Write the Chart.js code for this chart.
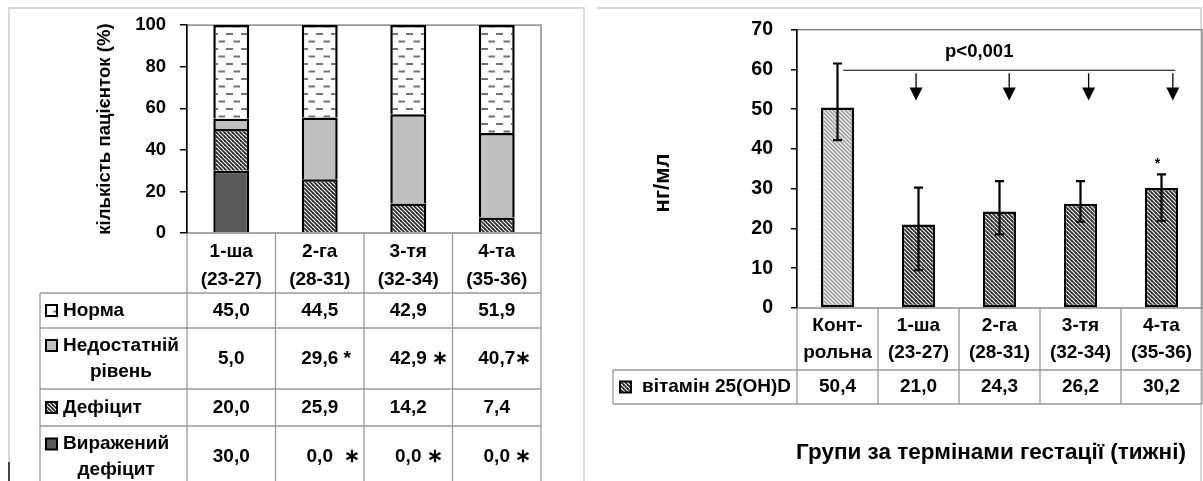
<!DOCTYPE html>
<html>
<head>
<meta charset="utf-8">
<script src="https://cdn.jsdelivr.net/npm/chart.js@4.4.0/dist/chart.umd.min.js"></script>
<style>
  body { margin: 0; background: #fff; width: 1203px; height: 481px; overflow: hidden; position: relative; }
  .frame { position: absolute; border: 2px solid #d9d9d9; }
  #leftFrame { left: 8px; top: 7px; width: 573px; height: 500px; }
  #rightFrame { left: 597px; top: 7px; width: 603px; height: 500px; border-left: none; border-bottom: none; }
  #cornerMark { position: absolute; left: 8px; top: 462px; width: 2px; height: 19px; background: #444; }
  canvas { position: absolute; top: 0; }
  #leftChart { left: 0; }
  #rightChart { left: 595px; }
  #xTitle { position: absolute; left: 641px; top: 439px; width: 700px; text-align: center;
            font: bold 22.5px 'Liberation Sans', Arial, sans-serif; line-height: 26px; color: #000; }
</style>
</head>
<body>
<div class="frame" id="leftFrame"></div>
<div class="frame" id="rightFrame"></div>
<div id="cornerMark"></div>
<canvas id="leftChart" width="595" height="481"></canvas>
<canvas id="rightChart" width="608" height="481"></canvas>
<div id="xTitle">Групи за термінами гестації (тижні)</div>

<script>
// ---- left chart data (% of patients by vitamin D status) ----
const leftGroups = [['1-ша', '(23-27)'], ['2-га', '(28-31)'], ['3-тя', '(32-34)'], ['4-та', '(35-36)']];
const normaVals = [45.0, 44.5, 42.9, 51.9];
const nedostatniyVals = [5.0, 29.6, 42.9, 40.7];
const defitsytVals = [20.0, 25.9, 14.2, 7.4];
const vyrazhenyiVals = [30.0, 0.0, 0.0, 0.0];
const normaMarks = ['', '', '', ''];
const nedostatniyMarks = ['', ' *', ' ∗', '∗'];
const defitsytMarks = ['', '', '', ''];
const vyrazhenyiMarks = ['', '  ∗', ' ∗', ' ∗'];
const percentTicks = [0, 20, 40, 60, 80, 100];

// ---- right chart data (25(OH)D, ng/ml) ----
const rightGroups = [['Конт-', 'рольна'], ['1-ша', '(23-27)'], ['2-га', '(28-31)'], ['3-тя', '(32-34)'], ['4-та', '(35-36)']];
const vitaminD = [50.4, 21.0, 24.3, 26.2, 30.2];
const errLow = [42.2, 9.5, 18.5, 21.7, 21.9];
const errHigh = [61.5, 30.3, 31.9, 31.9, 33.6];
const ngTicks = [0, 10, 20, 30, 40, 50, 60, 70];
const pLabel = 'p<0,001';
const pLineY = 59.8;
const pLineFrom = 0.07, pLineTo = 4.17, pLabelAt = 1.75;
const arrowAt = [0.97, 2.12, 3.1, 4.14];
const arrowTip = 52.2;
const starIndex = 4;

const FONT = "'Liberation Sans', Arial, sans-serif";
Chart.defaults.font.family = FONT;
Chart.defaults.color = '#000';

function makePattern(w, h, draw) {
  const c = document.createElement('canvas');
  c.width = w; c.height = h;
  const g = c.getContext('2d');
  g.fillStyle = '#fff';
  g.fillRect(0, 0, w, h);
  draw(g);
  return g.createPattern(c, 'repeat');
}
function hatch(color, s, lw) {
  return makePattern(s, s, g => {
    g.strokeStyle = color; g.lineWidth = lw;
    for (const k of [-s, 0, s]) {
      g.beginPath(); g.moveTo(-1, -1 + k); g.lineTo(s + 1, s + 1 + k); g.stroke();
    }
  });
}
const dashFill = makePattern(15, 15, g => {
  g.fillStyle = '#737373';
  g.fillRect(1, 3, 7, 2);
  g.fillRect(8.5, 10.5, 7, 2);
  g.fillRect(-6.5, 10.5, 1.5, 2);
});
const darkHatch = hatch('#2e2e2e', 4, 1.8);
const lightHatch = hatch('#a0a0a0', 4, 1.8);

function fmt(v) { return v.toFixed(1).replace('.', ','); }
function drawValue(ctx, text, mark, cx, cy) {
  ctx.textAlign = 'center';
  ctx.fillText(text, cx, cy);
  if (mark) {
    const w = ctx.measureText(text).width;
    ctx.textAlign = 'left';
    ctx.fillText(mark, cx + w / 2, cy);
  }
}
function swatch(ctx, fill, x, y, s) {
  ctx.fillStyle = fill;
  ctx.fillRect(x, y, s, s);
  ctx.strokeStyle = '#000'; ctx.lineWidth = 2;
  ctx.strokeRect(x, y, s, s);
}

const plotBorder = {
  id: 'plotBorder',
  beforeDraw(chart) {
    const { ctx, chartArea: a } = chart;
    ctx.save();
    ctx.strokeStyle = '#8a8a8a'; ctx.lineWidth = 1.5;
    ctx.strokeRect(a.left, a.top, a.right - a.left, a.bottom - a.top);
    ctx.restore();
  }
};

const leftTable = {
  id: 'leftTable',
  afterDraw(chart) {
    const { ctx, chartArea: a } = chart;
    const n = leftGroups.length, cw = (a.right - a.left) / n;
    const colX = i => a.left + i * cw;
    const headTop = a.bottom, headBot = a.bottom + 60;
    const rows = [headBot, headBot + 35, headBot + 96, headBot + 133, headBot + 195];
    const tableLeft = 40;
    ctx.save();
    ctx.strokeStyle = '#999'; ctx.lineWidth = 1.3;
    ctx.beginPath();
    for (let i = 0; i <= n; i++) { ctx.moveTo(colX(i), headTop); ctx.lineTo(colX(i), rows[rows.length - 1]); }
    ctx.moveTo(tableLeft, headBot); ctx.lineTo(tableLeft, rows[rows.length - 1]);
    rows.forEach(y => { ctx.moveTo(tableLeft, y); ctx.lineTo(a.right, y); });
    ctx.stroke();

    ctx.fillStyle = '#000';
    ctx.font = 'bold 19px ' + FONT;
    ctx.textBaseline = 'middle';
    const hMid = (headTop + headBot) / 2 + 3;
    leftGroups.forEach((g, i) => {
      ctx.textAlign = 'center';
      ctx.fillText(g[0], colX(i) + cw / 2, hMid - 14);
      ctx.fillText(g[1], colX(i) + cw / 2, hMid + 14);
    });

    [3, 2, 1, 0].forEach((di, r) => {
      const ds = chart.data.datasets[di];
      const mid = (rows[r] + rows[r + 1]) / 2;
      const lines = ds.label.split(' ');
      const firstY = lines.length > 1 ? mid - 13 : mid;
      swatch(ctx, ds.backgroundColor, 46, firstY - 5.5, 11);
      ctx.fillStyle = '#000';
      ctx.textAlign = 'left';
      ctx.fillText(lines[0], 63, firstY);
      if (lines.length > 1) {
        const w = ctx.measureText(lines[0]).width;
        ctx.textAlign = 'center';
        ctx.fillText(lines[1], 63 + w / 2, mid + 13);
      }
      ds.data.forEach((v, i) => drawValue(ctx, fmt(v), ds.marks[i], colX(i) + cw / 2, mid));
    });
    ctx.restore();
  }
};

const rightExtras = {
  id: 'rightExtras',
  afterDatasetsDraw(chart) {
    const { ctx, scales: { x, y } } = chart;
    ctx.save();
    ctx.strokeStyle = '#000'; ctx.fillStyle = '#000';
    ctx.lineWidth = 2.2;
    vitaminD.forEach((v, i) => {
      const px = x.getPixelForValue(i);
      const yl = y.getPixelForValue(errLow[i]), yh = y.getPixelForValue(errHigh[i]);
      ctx.beginPath();
      ctx.moveTo(px, yl); ctx.lineTo(px, yh);
      ctx.moveTo(px - 4.5, yl); ctx.lineTo(px + 4.5, yl);
      ctx.moveTo(px - 4.5, yh); ctx.lineTo(px + 4.5, yh);
      ctx.stroke();
    });
    const catW = x.getPixelForValue(1) - x.getPixelForValue(0);
    const xAt = t => x.getPixelForValue(0) + t * catW;
    const py = y.getPixelForValue(pLineY);
    ctx.lineWidth = 1.2;
    ctx.beginPath(); ctx.moveTo(xAt(pLineFrom), py); ctx.lineTo(xAt(pLineTo), py); ctx.stroke();
    ctx.font = 'bold 18.5px ' + FONT;
    ctx.textAlign = 'center'; ctx.textBaseline = 'middle';
    ctx.fillText(pLabel, xAt(pLabelAt), py - 18);
    const tipY = y.getPixelForValue(arrowTip);
    arrowAt.forEach(t => {
      const ax = xAt(t);
      ctx.lineWidth = 1.3;
      ctx.beginPath(); ctx.moveTo(ax, py + 3); ctx.lineTo(ax, tipY - 12); ctx.stroke();
      ctx.beginPath();
      ctx.moveTo(ax - 6.5, tipY - 13); ctx.lineTo(ax + 6.5, tipY - 13); ctx.lineTo(ax, tipY);
      ctx.closePath(); ctx.fill();
    });
    ctx.font = 'bold 14px ' + FONT;
    ctx.fillText('*', x.getPixelForValue(starIndex) - 4, y.getPixelForValue(errHigh[starIndex]) - 10);
    ctx.restore();
  },
  afterDraw(chart) {
    const { ctx, chartArea: a } = chart;
    const n = rightGroups.length, cw = (a.right - a.left) / n;
    const colX = i => a.left + i * cw;
    const headTop = a.bottom, headBot = a.bottom + 62, rowBot = headBot + 34;
    const tableLeft = 18;
    ctx.save();
    ctx.strokeStyle = '#999'; ctx.lineWidth = 1.3;
    ctx.beginPath();
    for (let i = 0; i <= n; i++) { ctx.moveTo(colX(i), headTop); ctx.lineTo(colX(i), rowBot); }
    ctx.moveTo(tableLeft, headBot); ctx.lineTo(tableLeft, rowBot);
    [headBot, rowBot].forEach(yy => { ctx.moveTo(tableLeft, yy); ctx.lineTo(a.right, yy); });
    ctx.stroke();
    ctx.fillStyle = '#000';
    ctx.font = 'bold 19px ' + FONT;
    ctx.textBaseline = 'middle';
    const hMid = (headTop + headBot) / 2;
    rightGroups.forEach((g, i) => {
      ctx.textAlign = 'center';
      ctx.fillText(g[0], colX(i) + cw / 2, hMid - 13.5);
      ctx.fillText(g[1], colX(i) + cw / 2, hMid + 13.5);
    });
    const ds = chart.data.datasets[0];
    const mid = (headBot + rowBot) / 2;
    swatch(ctx, darkHatch, 25, mid - 5.5, 11);
    ctx.fillStyle = '#000';
    ctx.textAlign = 'left';
    ctx.fillText(ds.label, 47, mid);
    ds.data.forEach((v, i) => drawValue(ctx, fmt(v), '', colX(i) + cw / 2, mid));

    // y-axis title, drawn by hand so it can sit a bit below the axis centre
    ctx.translate(68, 183);
    ctx.rotate(-Math.PI / 2);
    ctx.font = 'bold 22px ' + FONT;
    ctx.textAlign = 'center';
    ctx.fillText('нг/мл', 0, 0);
    ctx.restore();
  }
};

const barStyle = { borderColor: '#000', borderWidth: 2.5, barPercentage: 0.406, categoryPercentage: 1 };

new Chart(document.getElementById('leftChart'), {
  type: 'bar',
  data: {
    labels: leftGroups.map(g => g.join(' ')),
    datasets: [
      { label: 'Виражений дефіцит', data: vyrazhenyiVals, marks: vyrazhenyiMarks, backgroundColor: '#595959', ...barStyle },
      { label: 'Дефіцит', data: defitsytVals, marks: defitsytMarks, backgroundColor: darkHatch, ...barStyle },
      { label: 'Недостатній рівень', data: nedostatniyVals, marks: nedostatniyMarks, backgroundColor: '#c0c0c0', ...barStyle },
      { label: 'Норма', data: normaVals, marks: normaMarks, backgroundColor: dashFill, ...barStyle }
    ]
  },
  options: {
    responsive: false,
    animation: false,
    layout: { padding: { left: 91, right: 54, top: 21, bottom: 248 } },
    plugins: { legend: { display: false }, tooltip: { enabled: false } },
    scales: {
      x: { stacked: true, display: false },
      y: {
        stacked: true, min: 0, max: 100,
        afterBuildTicks: s => { s.ticks = percentTicks.map(v => ({ value: v })); },
        afterFit: s => { s.width = 96; },
        ticks: { color: '#000', padding: 14, font: { size: 18.5, weight: 'bold' } },
        grid: { drawOnChartArea: false, tickLength: 7, color: '#000', lineWidth: 1.5 },
        border: { color: '#000', width: 1.5 },
        title: { display: true, text: 'кількість пацієнток (%)', color: '#000',
                 font: { size: 18.6, weight: 'bold' }, padding: { top: 3, bottom: 0 } }
      }
    }
  },
  plugins: [plotBorder, leftTable]
});

new Chart(document.getElementById('rightChart'), {
  type: 'bar',
  data: {
    labels: rightGroups.map(g => g.join('')),
    datasets: [
      { label: 'вітамін 25(OH)D', data: vitaminD,
        backgroundColor: [lightHatch, darkHatch, darkHatch, darkHatch, darkHatch],
        ...barStyle, borderSkipped: false, barPercentage: 0.41 }
    ]
  },
  options: {
    responsive: false,
    animation: false,
    layout: { padding: { left: 53, right: 1, top: 23, bottom: 173 } },
    plugins: { legend: { display: false }, tooltip: { enabled: false } },
    scales: {
      x: { display: false },
      y: {
        min: 0, max: 70,
        afterBuildTicks: s => { s.ticks = ngTicks.map(v => ({ value: v })); },
        afterFit: s => { s.width = 149; },
        ticks: { color: '#000', padding: 18, font: { size: 19.5, weight: 'bold' } },
        grid: { drawOnChartArea: false, tickLength: 6, color: '#000', lineWidth: 1.5 },
        border: { color: '#000', width: 1.5 }
      }
    }
  },
  plugins: [plotBorder, rightExtras]
});
</script>
</body>
</html>
